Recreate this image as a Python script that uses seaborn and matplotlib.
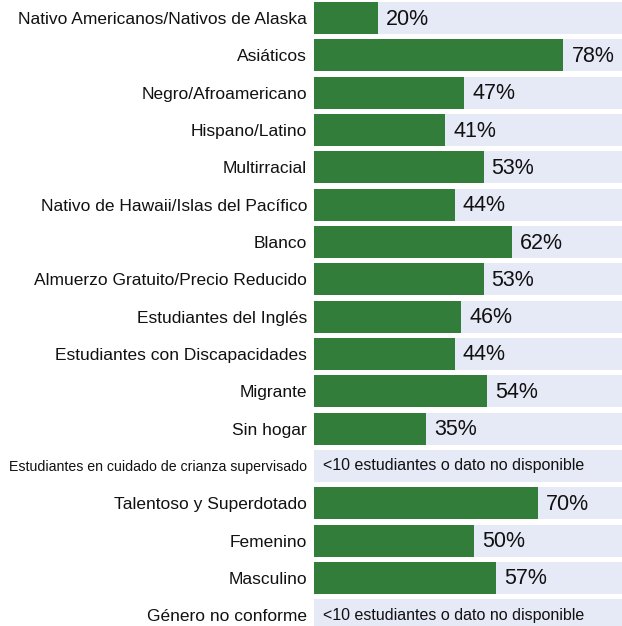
import numpy as np
import pandas as pd
import matplotlib
matplotlib.use("Agg")
import matplotlib.pyplot as plt
import seaborn as sns

# datos
categories = [
    "Nativo Americanos/Nativos de Alaska",
    "Asiáticos",
    "Negro/Afroamericano",
    "Hispano/Latino",
    "Multirracial",
    "Nativo de Hawaii/Islas del Pacífico",
    "Blanco",
    "Almuerzo Gratuito/Precio Reducido",
    "Estudiantes del Inglés",
    "Estudiantes con Discapacidades",
    "Migrante",
    "Sin hogar",
    "Estudiantes en cuidado de crianza supervisado",
    "Talentoso y Superdotado",
    "Femenino",
    "Masculino",
    "Género no conforme",
]
values = [20, 78, 47, 41, 53, 44, 62, 53, 46, 44, 54, 35, np.nan, 70, 50, 57, np.nan]
missing_text = "<10 estudiantes o dato no disponible"

green = "#337d3a"
lavender = "#e6e9f6"

sns.set_style("white")
plt.rcParams["font.family"] = ["Liberation Sans", "DejaVu Sans"]

df = pd.DataFrame({"cat": categories, "val": values, "full": 100})

fig = plt.figure(figsize=(6.22, 6.26), dpi=100)
ax = fig.add_axes([314 / 622, 0, 1 - 314 / 622, 1])

sns.barplot(data=df, x="full", y="cat", order=categories, color=lavender,
            saturation=1, width=0.857, linewidth=0, ax=ax)
sns.barplot(data=df.dropna(), x="val", y="cat", order=categories, color=green,
            saturation=1, width=0.857, linewidth=0, ax=ax)

for i, v in enumerate(values):
    if np.isnan(v):
        ax.text(2.7, i, missing_text, va="center", ha="left", fontsize=11.5,
                color="#111111")
    else:
        ax.text(v + 2.5, i + 0.03, f"{v:.0f}%", va="center", ha="left",
                fontsize=15.5, color="#111111")

ax.set_xlim(0, 96.3)
ax.set_ylim(16.29, -0.48)
ax.set_xlabel("")
ax.set_ylabel("")
ax.set_xticks([])
ax.tick_params(axis="y", length=0, pad=5, labelsize=12.5, labelcolor="#111111")
for lab in ax.get_yticklabels():
    if lab.get_text().startswith("Estudiantes en cuidado"):
        lab.set_fontsize(10.2)
for s in ax.spines.values():
    s.set_visible(False)

fig.savefig("out.png", dpi=100)
